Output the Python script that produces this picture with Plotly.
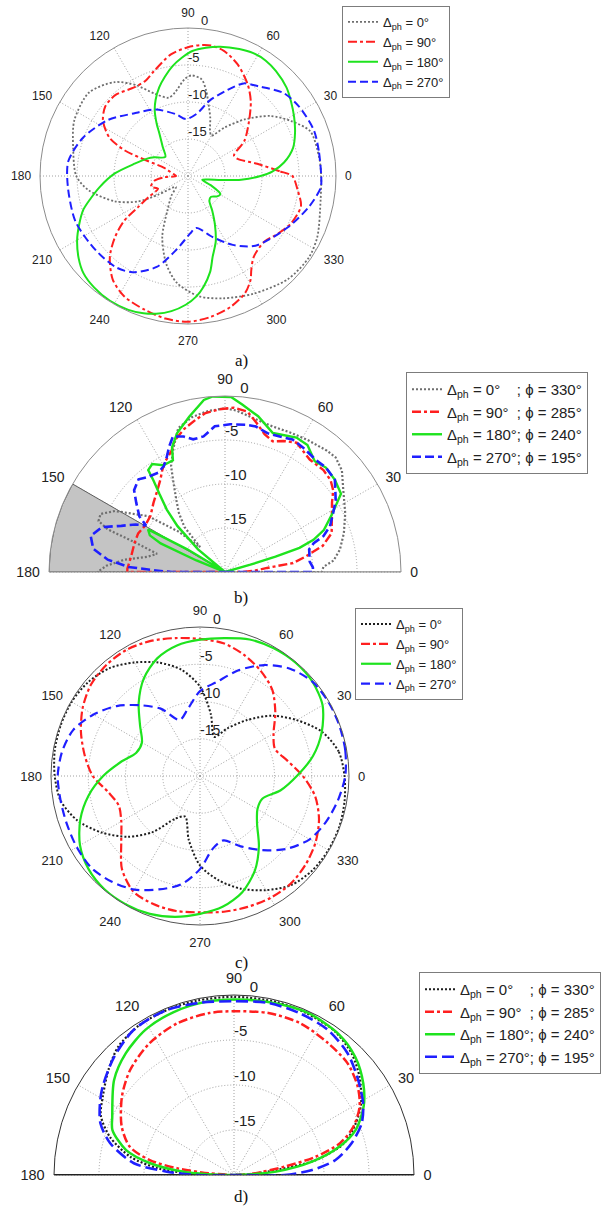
import plotly.graph_objects as go

FONT = "Liberation Sans, Arial, Helvetica, sans-serif"
SERIF = "Liberation Serif, Times New Roman, serif"

GRID = "#a0a0a0"
GREY = "#6f6f6f"
BLACK = "#1e1e1e"
RED = "#ff1f1f"
GREEN = "#1ee31e"
BLUE = "#1f1fff"

W, H = 613, 1207

# ---------------- a) measured pattern, full azimuth (dB) ----------------
a_th_0 = [0, 8, 20, 28, 36, 45, 53, 60, 64, 69, 73, 78, 82, 88, 92, 99, 104, 112, 120, 128,
          140, 154, 166, 180, 188, 199, 207, 212, 222, 230, 239, 247, 256, 264, 275, 286, 299,
          314, 326, 335, 350, 360]
a_db_0 = [-2.0, -2.1, -2.4, -4.2, -6.2, -9.2, -11.8, -13.7, -13.2, -11.6, -10.3, -8.2, -6.8, -6.4,
          -6.9, -8.6, -9.1, -8.0, -5.8, -3.9, -2.5, -2.9, -4.0, -4.9, -6.4, -9.5, -12.4, -15.2,
          -17.8, -16.5, -14.6, -11.1, -7.8, -5.5, -3.7, -2.8, -1.8, -0.6, -0.3, -0.7, -1.8, -2.0]

a_th_90 = [0, 3, 10, 19, 24, 32, 42, 50, 57, 66, 74, 80, 84, 90, 98, 108, 114, 121, 132, 140,
           147, 154, 158, 159.5, 161, 165, 172, 180, 183, 188, 196, 203, 208, 212, 215, 220, 226,
           234, 242, 252, 261, 270, 279, 288, 296, 301, 304, 309, 319, 327, 335, 345, 353, 360]
a_db_90 = [-5.9, -7.6, -10.5, -12.9, -13.2, -11.0, -8.9, -6.8, -5.2, -3.5, -2.4, -2.1, -2.2, -2.6,
           -3.4, -5.1, -5.9, -6.0, -5.3, -5.4, -6.3, -8.2, -10.8, -14.2, -16.6, -17.3, -18.0,
           -18.4, -16.8, -15.4, -14.8, -15.6, -14.0, -12.0, -9.5, -7.1, -4.8, -2.7, -1.6, -1.0,
           -0.5, -0.3, -0.7, -1.4, -2.4, -3.6, -4.7, -5.9, -6.4, -5.6, -4.7, -4.2, -5.1, -5.9]

a_th_180 = [0, 3, 8, 15, 22, 29, 36, 42, 50, 56, 62, 68, 76, 82, 88, 93, 98, 103, 108, 113,
            117, 121, 124, 131, 140, 151, 157, 167, 178, 187, 193, 198, 204, 210, 217, 223, 230,
            238, 246, 252, 257, 263, 269, 274, 278, 283, 287, 293, 299, 305, 311, 318, 325, 331,
            338, 345, 350, 353, 356, 360]
a_db_180 = [-10.2, -8.6, -6.9, -5.3, -4.4, -3.6, -2.8, -2.1, -1.5, -1.2, -1.2, -1.5, -2.0, -2.5,
            -3.1, -4.0, -5.0, -6.2, -7.4, -8.8, -10.1, -11.8, -13.1, -14.8, -16.0, -14.8, -14.0,
            -12.6, -10.1, -8.0, -6.5, -5.1, -3.9, -2.7, -1.5, -0.7, -0.3, -0.1, -0.2, -0.5, -0.9,
            -1.6, -2.6, -3.7, -4.9, -6.7, -8.6, -10.4, -12.5, -14.3, -15.6, -15.8, -15.2, -15.0,
            -16.7, -18.0, -17.2, -15.5, -12.8, -10.2]

a_th_270 = [0, 11, 20, 32, 41, 52, 59, 66, 74, 82, 92, 101, 116, 131, 145, 160, 173, 185, 202,
            219, 232, 240, 251, 261, 272, 279, 292, 303, 314, 333, 346, 355, 360]
a_db_270 = [-2.0, -2.0, -1.9, -2.3, -2.9, -4.6, -5.4, -7.4, -9.4, -11.5, -12.3, -11.5, -10.0,
            -8.8, -6.8, -4.9, -3.7, -3.7, -3.6, -4.0, -4.3, -5.0, -7.0, -9.9, -12.2, -12.9,
            -11.1, -8.9, -6.9, -4.8, -3.1, -2.0, -2.0]

# ---------------- b) measured pattern, elevation cut (dB) ----------------
b_th_0 = [0, 0, 3, 6, 11, 18, 26, 35, 41, 46, 50, 58, 65, 72, 80, 86, 90, 96, 102, 108, 113,
          117, 120, 124, 128, 132, 135, 139, 144, 151, 155, 158, 160, 162, 165, 169, 173, 177,
          180, 180]
b_db_0 = [-20, -9.0, -8.8, -7.6, -6.7, -5.8, -4.8, -3.6, -2.4, -1.9, -2.0, -2.3, -2.5, -2.6,
          -2.2, -1.6, -1.4, -1.6, -2.0, -2.8, -4.9, -6.5, -8.3, -10.1, -11.5, -13.1, -16.0,
          -13.0, -9.2, -5.7, -4.4, -4.5, -5.8, -9.5, -12.0, -11.0, -8.5, -6.5, -5.5, -20]

b_th_90 = [0, 0, 3, 5.5, 7.5, 11, 15, 20, 26, 33, 37, 41, 46, 53, 61, 66, 70, 74, 78, 82, 87,
           92, 97, 101, 106, 111, 114, 119, 122, 125, 130, 136, 143, 150, 156, 162, 170, 178,
           180, 180]
b_db_90 = [-20, -18, -16.5, -15.2, -12.2, -10.6, -8.5, -7.1, -6.5, -5.5, -4.6, -4.1, -3.9, -4.0,
           -3.2, -3.7, -4.2, -3.7, -2.7, -1.6, -1.3, -1.5, -1.8, -2.4, -3.1, -4.0, -5.0, -5.8,
           -6.5, -7.2, -8.0, -8.7, -9.4, -9.5, -9.2, -9.2, -9.2, -8.9, -8.9, -20]

b_th_180 = [0, 14, 16, 17, 18, 20, 23, 28, 31, 34, 40, 46, 51, 57, 62, 71, 78, 84, 88, 94, 97,
            103, 109, 113, 115, 120, 124, 127, 128, 130, 133, 136, 140, 145, 149, 151, 154, 156,
            158, 162, 180]
b_db_180 = [-20, -20, -17, -14, -11.1, -9.3, -7.8, -6.3, -5.3, -4.1, -3.7, -3.5, -3.8, -2.8,
            -2.7, -3.3, -1.9, -0.9, -0.1, 0.0, -0.3, -1.9, -3.3, -4.6, -6.0, -6.0, -5.2, -5.5,
            -6.8, -8.4, -10.3, -12.5, -16.0, -20, -15, -10.0, -10.5, -12.0, -16.5, -20, -20]

b_th_270 = [0, 0, 3, 7, 15, 18, 20, 23.5, 28.6, 33, 40, 46, 51, 58, 63, 68, 73, 78, 82, 88, 94,
            99, 103.5, 107, 111, 114, 117, 120, 124, 129, 133, 138, 142, 147, 149.5, 152, 156,
            160, 165, 170, 174, 177, 179.5, 180, 180]
b_db_270 = [-20, -10.0, -10.0, -10.3, -10.1, -9.4, -8.1, -7.0, -6.0, -5.0, -3.7, -3.5, -3.6,
            -3.3, -3.1, -3.4, -3.5, -3.1, -3.1, -3.2, -3.4, -4.4, -4.5, -3.9, -3.5, -4.4, -5.4,
            -6.1, -6.4, -6.1, -5.6, -6.1, -7.2, -8.4, -9.6, -8.5, -7.1, -5.1, -4.2, -4.8, -6.6,
            -9.0, -13.1, -14.0, -20]

# blocked sector of the elevation cut (degrees)
b_block_from, b_block_to = 150, 180

# ---------------- c) simulated pattern, full azimuth (dB) ----------------
c_th = [0, 10, 20, 30, 40, 50, 60, 70, 80, 90, 100, 110, 120, 130, 140, 150, 160, 170, 180,
        190, 200, 210, 220, 230, 240, 250, 260, 270, 280, 290, 300, 310, 320, 330, 340, 350, 360]
c_db_0 = [-0.6, -1.1, -2.6, -5.0, -7.4, -10.2, -12.6, -14.4, -11.6, -8.0, -5.5, -3.8, -2.4,
          -1.1, -0.4, -0.1, -0.1, -0.2, -0.5, -1.0, -2.5, -4.8, -7.3, -10.2, -13.4, -14.2,
          -11.3, -8.0, -5.8, -3.9, -2.3, -0.9, -0.3, -0.1, -0.1, -0.3, -0.6]
c_db_90 = [-6.2, -8.1, -9.3, -8.6, -6.8, -4.9, -3.7, -2.7, -1.9, -1.6, -1.2, -0.7, -0.4, -0.5,
           -0.9, -1.8, -3.0, -4.3, -5.6, -7.5, -8.4, -7.8, -6.2, -3.7, -2.1, -1.7, -1.6, -1.7,
           -1.5, -1.3, -1.1, -1.1, -1.5, -2.1, -3.0, -4.3, -6.2]
c_db_180 = [-7.0, -4.6, -2.6, -1.0, -0.3, -0.1, -0.2, -0.5, -1.2, -1.7, -2.2, -3.2, -4.9, -7.2,
            -9.5, -11.0, -10.9, -9.2, -7.0, -4.8, -2.9, -1.4, -0.5, -0.1, -0.1, -0.3, -0.8,
            -1.5, -2.2, -3.4, -5.3, -7.7, -10.0, -11.1, -11.1, -9.0, -7.0]
c_db_270 = [-0.5, -0.2, -0.1, -0.1, -0.3, -1.2, -2.8, -4.9, -7.2, -8.6, -10.8, -12.0, -9.6,
            -7.6, -5.4, -3.5, -1.9, -1.2, -0.9, -1.0, -1.0, -0.9, -0.9, -1.5, -2.4, -3.8, -5.2,
            -7.5, -10.1, -10.8, -9.1, -7.0, -4.8, -3.0, -2.0, -1.2, -0.5]

# ---------------- d) simulated pattern, elevation cut (dB) ----------------
d_th_0 = [0, 3, 6.8, 10.3, 16, 23, 29.3, 38, 46, 55, 66, 76, 90, 102, 111, 122, 132, 140, 149,
          156, 163, 170, 175, 178, 180]
d_db_0 = [-20, -18.0, -15.3, -10.8, -7.3, -5.3, -3.8, -2.3, -1.2, -0.5, -0.3, -0.2, -0.2, -0.2,
          -0.2, -0.3, -0.8, -1.8, -3.0, -3.8, -5.6, -8.3, -11.5, -15.0, -20]

d_th_90 = [0, 4, 9.4, 12.6, 16.7, 22, 28.6, 35.6, 44.5, 54.5, 66.5, 78, 90, 98.7, 110.4, 122.6,
           134.8, 145, 156.6, 164.8, 170, 173.3, 176, 180]
d_db_90 = [-20, -18, -14.3, -10.7, -7.7, -5.7, -4.1, -3.1, -2.3, -2.0, -1.6, -1.6, -1.8, -1.8,
           -2.0, -2.6, -3.6, -4.8, -6.4, -8.0, -10.5, -13.7, -17.2, -20]

d_th_180 = [0, 2, 4.6, 9.7, 15, 20.3, 27.9, 35.3, 44.2, 53.3, 65.6, 78.8, 90, 99.4, 110.5,
            121.3, 131.6, 141.6, 154.4, 159.7, 167, 172, 176, 178.5, 180]
d_db_180 = [-20, -18.5, -15.3, -11.2, -7.9, -5.6, -3.7, -2.4, -1.2, -0.5, -0.2, -0.4, -0.5,
            -0.5, -0.7, -1.1, -1.9, -3.0, -5.0, -5.6, -7.7, -10.6, -14.1, -17.0, -20]

d_th_270 = [0, 0, 3.7, 8.4, 15, 22, 29, 38.5, 47, 57, 67.8, 78.7, 90, 100.8, 112.5, 124.6,
            135.4, 146, 151.8, 158.9, 165.6, 173.3, 177, 180, 180]
d_db_270 = [-20, -14.4, -11.3, -8.6, -6.5, -4.7, -3.6, -2.5, -1.5, -0.8, -0.6, -0.5, -0.7, -0.5,
            -0.2, -0.4, -1.3, -2.4, -3.1, -4.1, -5.8, -8.8, -12.4, -15.9, -20]

# ---------------- shared labels ----------------
names_az = ["Δ<sub>ph</sub> = 0°", "Δ<sub>ph</sub> = 90°",
            "Δ<sub>ph</sub> = 180°", "Δ<sub>ph</sub> = 270°"]
names_el = ["Δ<sub>ph</sub> = 0°\u00a0\u00a0\u00a0\u00a0; ϕ = 330°",
            "Δ<sub>ph</sub> = 90°\u00a0\u00a0; ϕ = 285°",
            "Δ<sub>ph</sub> = 180°; ϕ = 240°",
            "Δ<sub>ph</sub> = 270°; ϕ = 195°"]
ring_vals = [-15, -10, -5]
ring_text = ["-15", "-10", "-5"]
r_min, r_max = -20, 0


def dom(cx, cy, rx, top, bottom):
    """paper-coordinate domain from pixel box"""
    return dict(x=[(cx - rx) / W, (cx + rx) / W], y=[1 - bottom / H, 1 - top / H])


def polar_cfg(domain, half, tick_size, rim, rim_w=1, pad=5):
    tv = list(range(0, 181, 30)) if half else list(range(0, 360, 30))
    return dict(
        domain=domain,
        sector=[0, 180] if half else [0, 360],
        bgcolor="white",
        angularaxis=dict(
            rotation=0, direction="counterclockwise",
            tickmode="array", tickvals=tv, ticktext=[str(t) for t in tv],
            ticks="outside", ticklen=pad, tickcolor="rgba(0,0,0,0)",
            showline=True, linecolor=rim, linewidth=rim_w,
            showgrid=True, gridcolor=GRID, griddash="1px,2px", gridwidth=1,
            tickfont=dict(family=FONT, size=tick_size, color="#222"),
        ),
        radialaxis=dict(
            range=[r_min, r_max], tickmode="array", tickvals=[-15, -10, -5],
            showticklabels=False, ticks="", showline=False,
            showgrid=True, gridcolor=GRID, griddash="1px,2px", gridwidth=1,
        ),
    )


fig = go.Figure()


def add_series(sub, leg, thetas, dbs, names, colors, dashes, widths, shape):
    for th, r, nm, col, ds, lw in zip(thetas, dbs, names, colors, dashes, widths):
        fig.add_trace(go.Scatterpolar(
            theta=th, r=r, mode="lines", name=nm, subplot=sub, legend=leg,
            line=dict(color=col, dash=ds, width=lw, shape=shape, smoothing=0.8),
            hoverinfo="skip",
        ))


def add_ring_labels(sub, size):
    # inner rings labelled just right of the 90° spoke, outer ring label beside the "90"
    fig.add_trace(go.Scatterpolar(
        theta=[90] * len(ring_vals) + [85], r=ring_vals + [r_max],
        mode="text", text=ring_text + ["0"],
        textposition="top right", cliponaxis=False, subplot=sub, showlegend=False,
        textfont=dict(family=FONT, size=size, color="#222"), hoverinfo="skip",
    ))


# a)
add_series("polar", "legend", [a_th_0, a_th_90, a_th_180, a_th_270],
           [a_db_0, a_db_90, a_db_180, a_db_270], names_az,
           [GREY, RED, GREEN, BLUE], ["2px,2px", "dashdot", "solid", "8px,4px"],
           [1.8, 2.0, 2.0, 2.0], "spline")
add_ring_labels("polar", 13)

# b) blocked sector first so the curves sit on top of it
fig.add_trace(go.Barpolar(
    theta=[(b_block_from + b_block_to) / 2], width=[b_block_to - b_block_from],
    base=[r_min], r=[r_max - r_min], subplot="polar2", showlegend=False,
    marker=dict(color="#c4c4c4", line=dict(color="#5c5c5c", width=1)), hoverinfo="skip",
))
fig.add_trace(go.Scatterpolar(theta=[0, 180], r=[r_max, r_max], mode="lines",
                              line=dict(color="#8a8a8a", width=1), subplot="polar2",
                              showlegend=False, hoverinfo="skip"))
add_series("polar2", "legend2", [b_th_0, b_th_90, b_th_180, b_th_270],
           [b_db_0, b_db_90, b_db_180, b_db_270], names_el,
           [GREY, RED, GREEN, BLUE], ["2px,2px", "dashdot", "solid", "9px,4px"],
           [2.2, 2.4, 2.4, 2.6], "linear")
add_ring_labels("polar2", 15)

# c)
add_series("polar3", "legend3", [c_th] * 4, [c_db_0, c_db_90, c_db_180, c_db_270], names_az,
           [BLACK, RED, GREEN, BLUE], ["2px,2px", "dashdot", "solid", "9px,5px"],
           [2.0, 2.2, 2.2, 2.2], "spline")
add_ring_labels("polar3", 14)

# d)
fig.add_trace(go.Scatterpolar(theta=[0, 180], r=[r_max, r_max], mode="lines",
                              line=dict(color="#111", width=2.2), subplot="polar4",
                              showlegend=False, hoverinfo="skip"))
add_series("polar4", "legend4", [d_th_0, d_th_90, d_th_180, d_th_270],
           [d_db_0, d_db_90, d_db_180, d_db_270], names_el,
           [BLACK, RED, GREEN, BLUE], ["2px,2px", "dashdot", "solid", "12px,5px"],
           [2.2, 2.5, 2.5, 2.6], "spline")
add_ring_labels("polar4", 15)


def legend_cfg(x, y, size):
    return dict(x=x / W, y=1 - y / H, xanchor="left", yanchor="top",
                bgcolor="white", bordercolor="#7c7c7c", borderwidth=1,
                font=dict(family=FONT, size=size, color="#222"), itemwidth=30,
                tracegroupgap=0)


fig.update_layout(
    width=W, height=H, margin=dict(l=0, r=0, t=0, b=0),
    paper_bgcolor="white", plot_bgcolor="white", showlegend=True,
    polar=polar_cfg(dom(188, 176, 148, 28, 324), False, 12, "#8c8c8c", pad=6),
    polar2=polar_cfg(dom(225, 572, 176, 396, 572), True, 14, "#8c8c8c", pad=6),
    polar3=polar_cfg(dom(200, 776, 149, 627, 925), False, 13, "#555555", pad=6),
    polar4=polar_cfg(dom(234, 1175, 180, 995, 1175), True, 14.5, "#333333", pad=6),
    legend=legend_cfg(342, 6, 13),
    legend2=legend_cfg(406, 372, 15),
    legend3=legend_cfg(355, 608, 13),
    legend4=legend_cfg(419, 972, 15),
    annotations=[
        dict(text=t, x=241 / W, y=1 - yy / H, xref="paper", yref="paper",
             showarrow=False, xanchor="center", yanchor="middle",
             font=dict(family=SERIF, size=17, color="#111"))
        for t, yy in [("a)", 360), ("b)", 597), ("c)", 962), ("d)", 1196)]
    ],
)

fig.write_html("out.html")
